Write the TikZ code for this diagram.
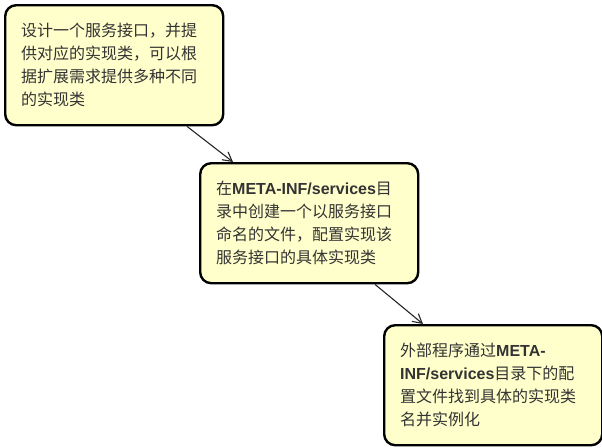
\documentclass[tikz,border=0pt]{standalone}
\usepackage{fontspec}
\setmainfont{Noto Sans CJK SC}
\newfontfamily\latf{Liberation Sans}
\usetikzlibrary{arrows.meta}
\definecolor{boxfill}{HTML}{FFFFCC}
\definecolor{txt}{HTML}{333333}
\newcommand{\mi}{{\latf\bfseries META-INF/services}}
\tikzset{
  box/.style={draw=black, line width=2.4pt, fill=boxfill, rounded corners=11pt,
    anchor=north west, minimum width=218pt, minimum height=120pt,
    inner xsep=16pt, inner ysep=0pt, text width=186pt, align=left,
    text=txt, font=\fontsize{16pt}{23pt}\selectfont},
  conn/.style={draw=black!85, line width=1.1pt, -{Straight Barb[length=9pt,width=10pt,line width=1.1pt]}}
}
\begin{document}
\begin{tikzpicture}[x=1pt,y=-1pt]
\useasboundingbox (0,0) rectangle (602,447);
\node[box] (b1) at (4,4) {设计一个服务接口，并提\\供对应的实现类，可以根\\据扩展需求提供多种不同\\的实现类};
\node[box] (b2) at (199,162) {在\mi 目\\录中创建一个以服务接口\\命名的文件，配置实现该\\服务接口的具体实现类};
\node[box] (b3) at (383,324) {外部程序通过{\latf\bfseries META-}\\{\latf\bfseries INF/services}目录下的配\\置文件找到具体的实现类\\名并实例化};
\draw[conn] ([xshift=183pt]b1.south west) -- ([xshift=34pt]b2.north west);
\draw[conn] ([xshift=176pt]b2.south west) -- ([xshift=40pt]b3.north west);
\end{tikzpicture}
\end{document}
